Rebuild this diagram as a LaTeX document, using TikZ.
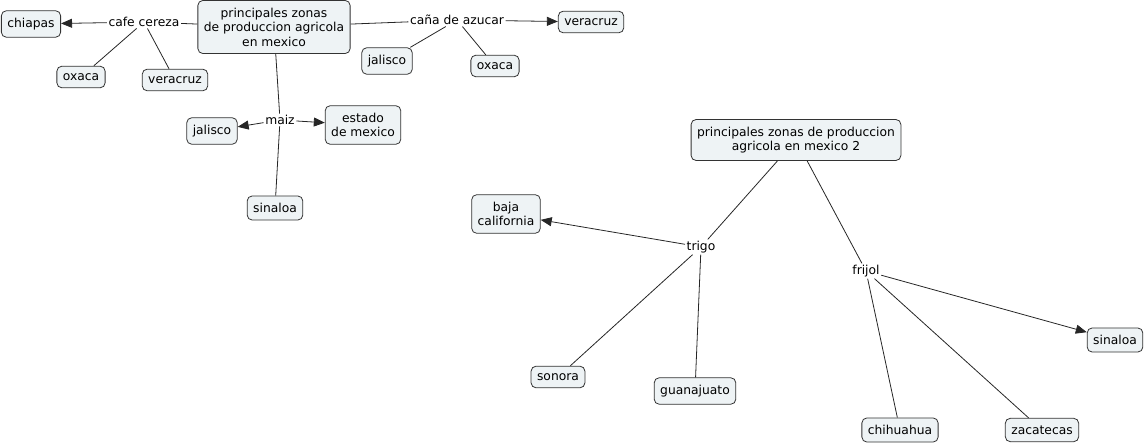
\documentclass[tikz,border=0pt]{standalone}
\usepackage{fontspec}
\setmainfont{DejaVu Sans}
\usetikzlibrary{arrows.meta}
\definecolor{boxfill}{HTML}{EEF3F5}
\definecolor{boxline}{HTML}{333333}
\tikzset{
  concept/.style={draw=boxline, fill=boxfill, rounded corners=5pt, line width=0.8pt,
    inner xsep=6pt, inner ysep=7.3pt, align=center, font=\fontsize{12.3}{14.5}\selectfont},
  phrase/.style={inner sep=1.5pt, font=\fontsize{12.3}{14.5}\selectfont},
  link/.style={draw=black!85, line width=0.8pt},
  arr/.style={link, -{Triangle[length=11pt,width=9pt]}}
}
\begin{document}
\begin{tikzpicture}[x=1pt,y=-1pt]
\useasboundingbox (0,0) rectangle (1146,446);
% concepts
\node[concept] (main1) at (274,27) {principales zonas\\de produccion agricola\\en mexico};
\node[concept] (chiapas) at (31,24) {chiapas};
\node[concept] (oxacaL) at (81,77) {oxaca};
\node[concept] (veracruzL) at (175,80) {veracruz};
\node[concept] (veracruzR) at (591,22) {veracruz};
\node[concept] (jaliscoT) at (387,61) {jalisco};
\node[concept] (oxacaR) at (495,66) {oxaca};
\node[concept] (jaliscoM) at (212,131) {jalisco};
\node[concept] (estado) at (363,125) {estado\\de mexico};
\node[concept] (sinaloaT) at (275,208) {sinaloa};
\node[concept] (main2) at (796,140) {principales zonas de produccion\\agricola en mexico 2};
\node[concept] (baja) at (506,214) {baja\\california};
\node[concept] (sinaloaR) at (1115,340) {sinaloa};
\node[concept] (sonora) at (558,377) {sonora};
\node[concept] (guanajuato) at (695,391) {guanajuato};
\node[concept] (chihuahua) at (900,430) {chihuahua};
\node[concept] (zacatecas) at (1042,430) {zacatecas};
% linking phrases
\node[phrase] (cafe) at (144,22) {cafe cereza};
\node[phrase] (cana) at (457,20) {caña de azucar};
\node[phrase] (maiz) at (280,120) {maiz};
\node[phrase] (trigo) at (701,247) {trigo};
\node[phrase] (frijol) at (866,271) {frijol};
% connectors
\draw[link] (main1) -- (cafe);
\draw[arr] (cafe) -- (chiapas);
\draw[link] (cafe) -- (oxacaL);
\draw[link] (cafe) -- (veracruzL);
\draw[link] (main1) -- (cana);
\draw[arr] (cana) -- (veracruzR);
\draw[link] (cana) -- (jaliscoT);
\draw[link] (cana) -- (oxacaR);
\draw[link] (main1) -- (maiz);
\draw[arr] (maiz) -- (jaliscoM);
\draw[arr] (maiz) -- (estado);
\draw[link] (maiz) -- (sinaloaT);
\draw[link] (main2) -- (trigo);
\draw[arr] (trigo) -- (baja);
\draw[link] (trigo) -- (sonora);
\draw[link] (trigo) -- (guanajuato);
\draw[link] (main2) -- (frijol);
\draw[arr] (frijol) -- (sinaloaR);
\draw[link] (frijol) -- (chihuahua);
\draw[link] (frijol) -- (zacatecas);
\end{tikzpicture}
\end{document}
